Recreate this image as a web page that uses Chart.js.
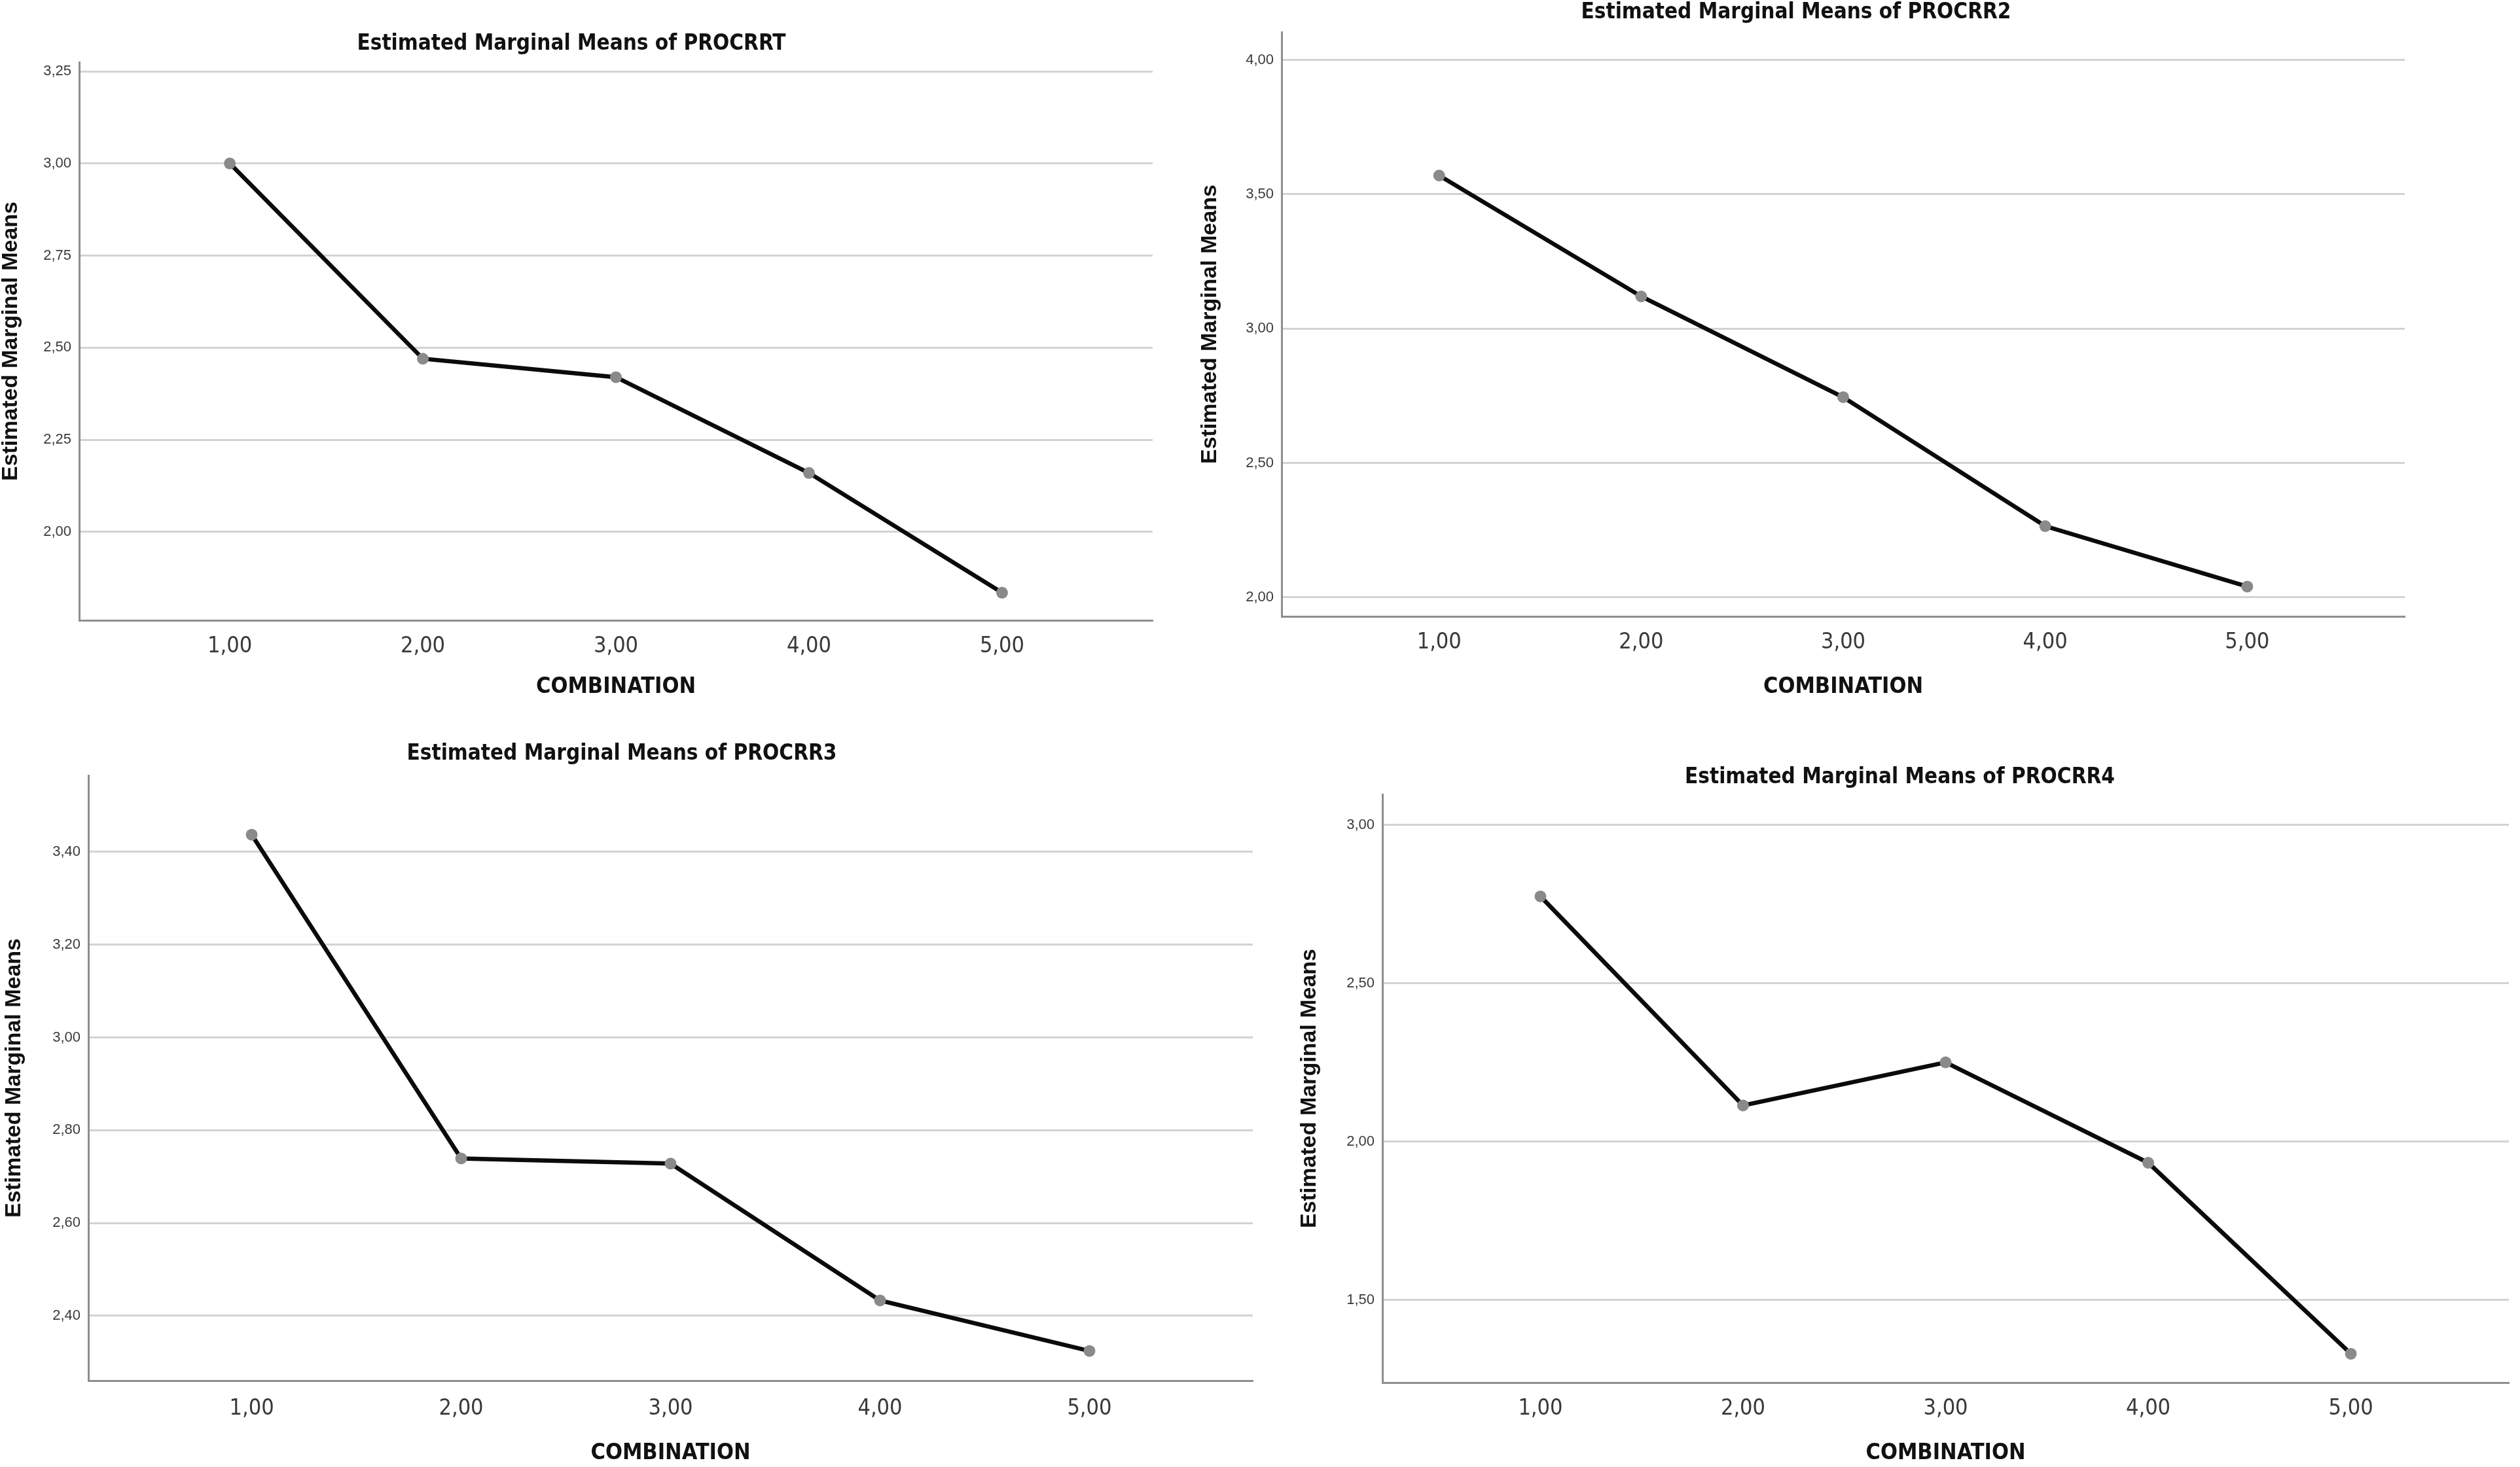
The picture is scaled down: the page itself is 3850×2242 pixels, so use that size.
<!DOCTYPE html>
<html>
<head>
<meta charset="utf-8">
<title>Estimated Marginal Means</title>
<script src="https://cdn.jsdelivr.net/npm/chart.js@4.4.1/dist/chart.umd.min.js"></script>
<style>
  html, body { margin: 0; padding: 0; background: #fff; overflow: hidden; }
  body { width: 3850px; height: 2242px; position: relative; }
  canvas { position: absolute; }
</style>
</head>
<body>
<canvas id="c1"></canvas>
<canvas id="c2"></canvas>
<canvas id="c3"></canvas>
<canvas id="c4"></canvas>
<script>
// values
var combinations = [1, 2, 3, 4, 5];
var combinationLabels = ['1,00', '2,00', '3,00', '4,00', '5,00'];

var procrrt = [3.00, 2.47, 2.42, 2.16, 1.835];
var procrr2 = [3.57, 3.12, 2.745, 2.265, 2.04];
var procrr3 = [3.437, 2.739, 2.728, 2.433, 2.324];
var procrr4 = [2.774, 2.114, 2.25, 1.933, 1.33];

var yTicksT = [2.00, 2.25, 2.50, 2.75, 3.00, 3.25];
var yTicks2 = [2.00, 2.50, 3.00, 3.50, 4.00];
var yTicks3 = [2.40, 2.60, 2.80, 3.00, 3.20, 3.40];
var yTicks4 = [1.50, 2.00, 2.50, 3.00];

var narrow = "'DejaVu Sans Condensed', 'Liberation Sans Narrow', sans-serif";
var regular = "'Liberation Sans', Arial, sans-serif";
var axisColor = '#8e8e8e';

var titleFont = { family: narrow, size: 33, weight: 'bold', lineHeight: 1.2 };
var xTickFont = { family: narrow, size: 34, lineHeight: 1.2 };
var xTitleFont = { family: narrow, size: 34, weight: 'bold', lineHeight: 1.2 };
var yTitleFont = { family: regular, size: 34, weight: 'bold', lineHeight: 1.2 };
var yTickFont = { family: regular, size: 22, lineHeight: 1.2 };

// where each panel sits on the page (measured on the reference)
var panels = [
  { id: 'c1', title: 'Estimated Marginal Means of PROCRRT', values: procrrt, ticks: yTicksT, yMin: 1.76, yMax: 3.275,
    plot: { l: 121, r: 1768, t: 95, b: 948 }, titleX: 874, titleY: 68, yTitleX: 17, xTitleY: 1051, xTickPad: 20 },
  { id: 'c2', title: 'Estimated Marginal Means of PROCRR2', values: procrr2, ticks: yTicks2, yMin: 1.929, yMax: 4.104,
    plot: { l: 1958, r: 3681, t: 49, b: 942 }, titleX: 2745, titleY: 20, yTitleX: 1849, xTitleY: 1051, xTickPad: 20 },
  { id: 'c3', title: 'Estimated Marginal Means of PROCRR3', values: procrr3, ticks: yTicks3, yMin: 2.26, yMax: 3.565,
    plot: { l: 135, r: 1921, t: 1185, b: 2110 }, titleX: 951, titleY: 1153, yTitleX: 22, xTitleY: 2222, xTickPad: 23 },
  { id: 'c4', title: 'Estimated Marginal Means of PROCRR4', values: procrr4, ticks: yTicks4, yMin: 1.239, yMax: 3.096,
    plot: { l: 2112, r: 3840, t: 1214, b: 2113 }, titleX: 2903.5, titleY: 1189, yTitleX: 2001, xTitleY: 2222, xTickPad: 20 }
];

function makePanel(p) {
  var tLh = titleFont.size * titleFont.lineHeight;
  var xLh = xTitleFont.size * xTitleFont.lineHeight;
  var yLh = yTitleFont.size * yTitleFont.lineHeight;

  var right = p.plot.r + 2;
  var left = Math.round(2 * p.titleX - right);
  var top = Math.round(p.titleY - tLh / 2);
  var bottom = Math.round(p.xTitleY + xLh / 2);

  var canvas = document.getElementById(p.id);
  canvas.width = right - left;
  canvas.height = bottom - top;
  canvas.style.left = left + 'px';
  canvas.style.top = top + 'px';

  var yW = p.plot.l - left;
  var xH = bottom - p.plot.b;
  var titlePadBottom = p.plot.t - top - tLh;
  var yTitlePad = p.yTitleX - left - yLh / 2;

  return new Chart(canvas, {
    type: 'line',
    data: {
      datasets: [{
        data: combinations.map(function(c, i) { return { x: c, y: p.values[i] }; }),
        borderColor: '#0b0b0b',
        borderWidth: 6.5,
        pointRadius: 9,
        pointBackgroundColor: '#8a8a8a',
        pointBorderWidth: 0,
        tension: 0,
        fill: false,
        clip: false
      }]
    },
    options: {
      responsive: false,
      animation: false,
      layout: { padding: { left: 0, right: 2, top: 0, bottom: 0 } },
      plugins: {
        legend: { display: false },
        tooltip: { enabled: false },
        title: {
          display: true,
          text: p.title,
          color: '#111',
          font: titleFont,
          padding: { top: 0, bottom: titlePadBottom }
        }
      },
      scales: {
        x: {
          type: 'linear',
          min: 0.22,
          max: 5.78,
          afterBuildTicks: function(s) { s.ticks = combinations.map(function(v) { return { value: v }; }); },
          afterFit: function(s) { s.height = xH; },
          grid: { display: false, drawTicks: false },
          border: { display: true, color: axisColor, width: 3 },
          ticks: {
            padding: p.xTickPad,
            color: '#3a3a3a',
            font: xTickFont,
            maxRotation: 0,
            autoSkip: false,
            callback: function(v) {
              var i = combinations.indexOf(v);
              return i < 0 ? '' : combinationLabels[i];
            }
          },
          title: {
            display: true,
            text: 'COMBINATION',
            color: '#111',
            font: xTitleFont,
            padding: { top: 0, bottom: 0 }
          }
        },
        y: {
          min: p.yMin,
          max: p.yMax,
          afterBuildTicks: function(s) { s.ticks = p.ticks.map(function(v) { return { value: v }; }); },
          afterFit: function(s) { s.width = yW; },
          grid: { color: '#d3d3d3', lineWidth: 3, drawTicks: false },
          border: { display: true, color: axisColor, width: 3 },
          ticks: {
            padding: 12,
            color: '#3a3a3a',
            font: yTickFont,
            callback: function(v) { return v.toFixed(2).replace('.', ','); }
          },
          title: {
            display: true,
            text: 'Estimated Marginal Means',
            color: '#111',
            font: yTitleFont,
            padding: { top: yTitlePad, bottom: 0 }
          }
        }
      }
    }
  });
}

panels.forEach(makePanel);
</script>
</body>
</html>
